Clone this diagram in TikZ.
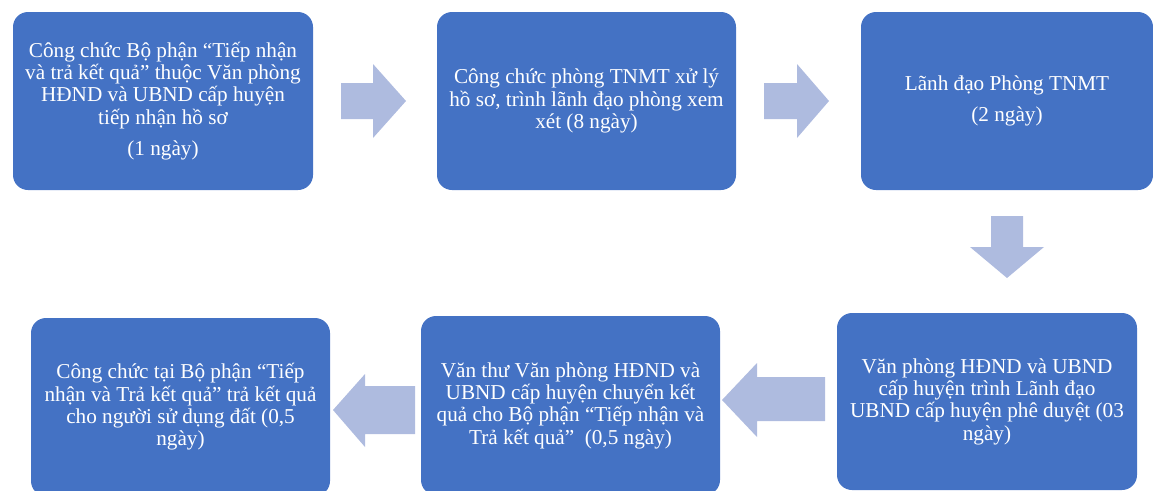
\documentclass[tikz,border=0pt]{standalone}
\usepackage{fontspec}
\setmainfont{Liberation Serif}
\definecolor{boxblue}{HTML}{4472C4}
\definecolor{arrowblue}{HTML}{AEBBDF}
\begin{document}
\begin{tikzpicture}[x=1pt,y=-1pt,
  box/.style={fill=boxblue, rounded corners=15pt, text=white, align=center,
    font=\fontsize{21.2}{22.3}\selectfont, inner sep=0pt},
  blockarrow/.style={fill=arrowblue}]
\useasboundingbox (0,0) rectangle (1153,490);
\node[box, minimum width=300pt, minimum height=178pt] (b1) at (163,101)
  {Công chức Bộ phận “Tiếp nhận\\ và trả kết quả” thuộc Văn phòng\\ HĐND và UBND cấp huyện\\ tiếp nhận hồ sơ\\[9pt] (1 ngày)};
\node[box, minimum width=299pt, minimum height=178pt] (b2) at (586.5,101)
  {Công chức phòng TNMT xử lý\\ hồ sơ, trình lãnh đạo phòng xem\\ xét (8 ngày)};
\node[box, minimum width=292pt, minimum height=178pt] (b3) at (1007,101)
  {Lãnh đạo Phòng TNMT\\[8pt] (2 ngày)};
\node[box, minimum width=300pt, minimum height=177pt] (b4) at (987,401.5)
  {Văn phòng HĐND và UBND\\ cấp huyện trình Lãnh đạo\\ UBND cấp huyện phê duyệt (03\\ ngày)};
\node[box, minimum width=299pt, minimum height=179pt] (b5) at (570.5,405.5)
  {Văn thư Văn phòng HĐND và\\ UBND cấp huyện chuyển kết\\ quả cho Bộ phận “Tiếp nhận và\\ Trả kết quả”\ \ (0,5 ngày)};
\node[box, minimum width=299pt, minimum height=178pt] (b6) at (180.5,407)
  {Công chức tại Bộ phận “Tiếp\\ nhận và Trả kết quả” trả kết quả\\ cho người sử dụng đất (0,5\\ ngày)};
% block arrows
\fill[blockarrow] (341,83) -- (373,83) -- (373,64) -- (406,101) -- (373,138) -- (373,119) -- (341,119) -- cycle;
\fill[blockarrow] (764,83) -- (797,83) -- (797,64) -- (829,101) -- (797,138) -- (797,119) -- (764,119) -- cycle;
\fill[blockarrow] (991,216) -- (1023,216) -- (1023,247) -- (1044,247) -- (1007,278) -- (970,247) -- (991,247) -- cycle;
\fill[blockarrow] (825,377) -- (757,377) -- (757,363) -- (722,400) -- (757,437) -- (757,421) -- (825,421) -- cycle;
\fill[blockarrow] (415,386) -- (365,386) -- (365,374) -- (333,410) -- (365,447) -- (365,434) -- (415,434) -- cycle;
\end{tikzpicture}
\end{document}
